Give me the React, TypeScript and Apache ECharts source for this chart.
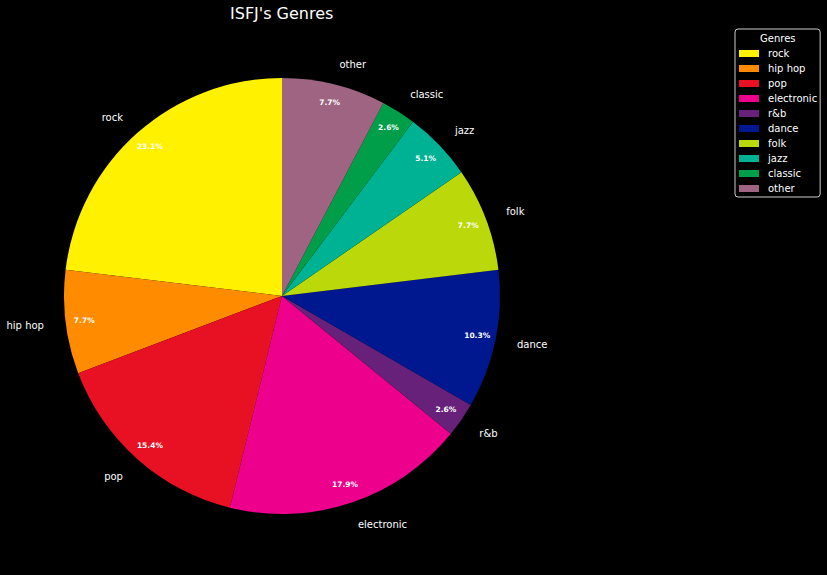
import React, { useEffect, useRef } from "react";
import * as echarts from "echarts";

const categories = ["rock", "hip hop", "pop", "electronic", "r&b", "dance", "folk", "jazz", "classic", "other"];
const counts = [9, 3, 6, 7, 1, 4, 3, 2, 1, 3];
const colors = ["#fff100", "#ff8c00", "#e81123", "#ec008c", "#68217a", "#00188f", "#bad80a", "#00b294", "#009e49", "#9e6482"];

const FONT = "DejaVu Sans";

export default function App() {
  const ref = useRef<HTMLDivElement>(null);
  useEffect(() => {
    if (!ref.current) return;
    const chart = echarts.init(ref.current, null, { renderer: "svg" });
    const total = counts.reduce((a, b) => a + b, 0);
    const data = categories.map((name, i) => ({ name, value: counts[i], itemStyle: { color: colors[i] } }));
    const R = 218;
    chart.setOption({
      animation: false,
      backgroundColor: "#000000",
      textStyle: { fontFamily: FONT },
      title: [
        {
          text: "ISFJ's Genres",
          left: 230,
          top: 5,
          padding: 0,
          textStyle: { color: "#ffffff", fontSize: 16, fontWeight: "normal", fontFamily: FONT },
        },
        {
          text: "Genres",
          left: 760,
          top: 33,
          padding: 0,
          textStyle: { color: "#ffffff", fontSize: 10, fontWeight: "normal", fontFamily: FONT },
        },
      ],
      legend: {
        orient: "vertical",
        left: 735,
        top: 29,
        data: categories,
        icon: "rect",
        itemWidth: 20,
        itemHeight: 7,
        itemGap: 0,
        padding: [17, 3, 1, 4],
        borderColor: "#cccccc",
        borderWidth: 1,
        borderRadius: 3,
        backgroundColor: "#000000",
        selectedMode: false,
        textStyle: { color: "#ffffff", fontSize: 10, lineHeight: 15, fontFamily: FONT, padding: [0, 0, 0, 4] },
      },
      series: [
        {
          type: "pie",
          center: [282, 296],
          radius: [0, R],
          startAngle: 90,
          clockwise: false,
          avoidLabelOverlap: false,
          silent: true,
          data,
          label: {
            show: true,
            position: "outside",
            color: "#ffffff",
            fontSize: 10,
            fontFamily: FONT,
            distanceToLabelLine: 0,
            alignTo: "none",
            offset: [0, 1],
            formatter: "{b}",
          },
          labelLine: { show: false, length: R * 0.1, length2: 0 },
          itemStyle: { borderWidth: 0 },
        },
        {
          type: "pie",
          center: [282, 296],
          radius: [R * 0.8, R],
          startAngle: 90,
          clockwise: false,
          avoidLabelOverlap: false,
          silent: true,
          data: categories.map((name, i) => ({ name, value: counts[i] })),
          itemStyle: { color: "rgba(0,0,0,0)", borderWidth: 0 },
          label: {
            show: true,
            position: "inside",
            rotate: 0,
            color: "#ffffff",
            fontSize: 7.5,
            fontWeight: "bold",
            fontFamily: FONT,
            formatter: (p: any) => ((p.value / total) * 100).toFixed(1) + "%",
          },
          labelLine: { show: false },
        },
      ],
    });
    return () => chart.dispose();
  }, []);
  return <div ref={ref} style={{ position: "absolute", left: 0, top: 0, width: 827, height: 575 }} />;
}
